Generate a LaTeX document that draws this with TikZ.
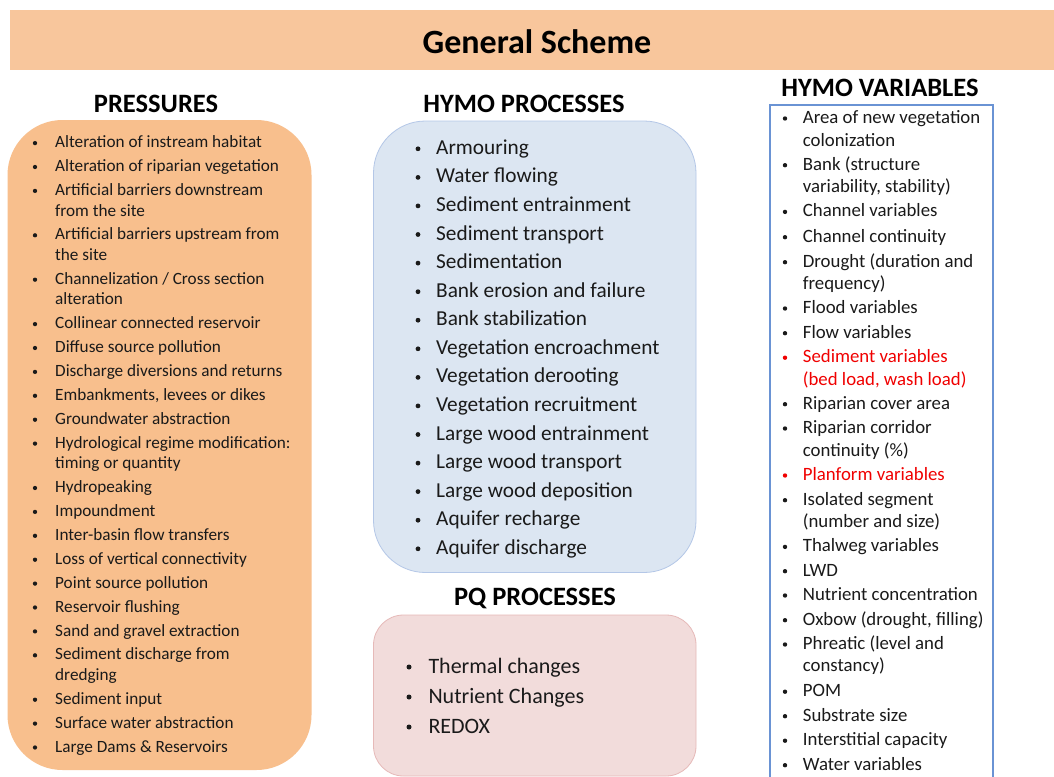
\documentclass[tikz,border=0pt]{standalone}
\usepackage{fontspec}
\setmainfont{Carlito}
\definecolor{titlebg}{HTML}{F8C69C}
\definecolor{presbg}{HTML}{F8BF8D}
\definecolor{hymobg}{HTML}{DCE6F2}
\definecolor{hymoln}{HTML}{B4C7E7}
\definecolor{pqbg}{HTML}{F2DCDB}
\definecolor{pqln}{HTML}{E6B9B8}
\definecolor{varln}{HTML}{6A93D4}
\definecolor{txt}{HTML}{1A1A1A}
\definecolor{redtxt}{HTML}{F00000}
\tikzset{
  head/.style={anchor=base, inner sep=0pt, text=black, font=\bfseries\fontsize{26.5}{31}\selectfont},
  ptxt/.style={anchor=base west, inner sep=0pt, text=txt, font=\fontsize{17.2}{20}\selectfont},
  htxt/.style={anchor=base west, inner sep=0pt, text=txt, font=\fontsize{21.3}{25}\selectfont},
  qtxt/.style={anchor=base west, inner sep=0pt, text=txt, font=\fontsize{22}{26}\selectfont},
  vtxt/.style={anchor=base west, inner sep=0pt, text=txt, font=\fontsize{18.8}{22}\selectfont},
  dot/.style={circle, fill=txt, inner sep=0pt, outer sep=0pt, minimum size=#1},
  boxnode/.style={inner sep=0pt, outer sep=0pt, rectangle},
}
\newcommand\pit[3]{\node[dot=4.3pt] (#1b) at (35,{#2-4.6}) {}; \node[ptxt] (#1) at (55,#2) {#3};}
\newcommand\pco[3]{\node[ptxt] (#1) at (55,#2) {#3};}
\newcommand\hit[3]{\node[dot=4.8pt] (#1b) at (418,{#2-5.5}) {}; \node[htxt] (#1) at (436,#2) {#3};}
\newcommand\qit[3]{\node[dot=5pt] (#1b) at (409,{#2-6}) {}; \node[qtxt] (#1) at (428.3,#2) {#3};}
\newcommand\vit[3]{\node[dot=4.4pt] (#1b) at (785,{#2-4.8}) {}; \node[vtxt] (#1) at (802.7,#2) {#3};}
\newcommand\vitr[3]{\node[dot=4.4pt, fill=redtxt] (#1b) at (785,{#2-4.8}) {}; \node[vtxt,text=redtxt] (#1) at (802.7,#2) {#3};}
\newcommand\vco[3]{\node[vtxt] (#1) at (802.7,#2) {#3};}
\newcommand\vcor[3]{\node[vtxt,text=redtxt] (#1) at (802.7,#2) {#3};}
\begin{document}
\begin{tikzpicture}[x=1pt,y=-1pt]
\useasboundingbox (0,0) rectangle (1054,776);
\fill[white] (0,0) rectangle (1054,776);
% title bar
\node[boxnode, fill=titlebg, minimum width=1044pt, minimum height=60pt, anchor=north west] (titlebar) at (10,10) {};
\node[anchor=base, inner sep=0pt, font=\bfseries\fontsize{34}{40}\selectfont] (title) at (537,54) {General Scheme};
% headings
\node[head] (hpres) at (156,112) {PRESSURES};
\node[head] (hproc) at (524,112) {HYMO PROCESSES};
\node[head] (hpq) at (535,605) {PQ PROCESSES};
\node[head] (hvar) at (880,96.7) {HYMO VARIABLES};
% boxes
\node[boxnode, fill=presbg, rounded corners=55pt, minimum width=304pt, minimum height=650pt, anchor=north west] (pbox) at (7.5,120) {};
\node[boxnode, fill=hymobg, draw=hymoln, line width=0.8pt, rounded corners=52pt, minimum width=322.5pt, minimum height=451.5pt, anchor=north west] (hbox) at (373.5,121) {};
\node[boxnode, fill=pqbg, draw=pqln, line width=0.8pt, rounded corners=30pt, minimum width=322.5pt, minimum height=161pt, anchor=north west] (qbox) at (373.5,615) {};
\coordinate (vbl) at (769.5,777);
\coordinate (vtl) at (769.5,105);
\coordinate (vtr) at (992.5,105);
\coordinate (vbr) at (992.5,777);
\draw[varln, line width=2pt] (vbl) -- (vtl) -- (vtr) -- (vbr);
% pressures
\pit{p1}{147.7}{Alteration of instream habitat}
\pit{p2}{171.6}{Alteration of riparian vegetation}
\pit{p3}{195.5}{Artificial barriers downstream}
\pco{p3a}{216.0}{from the site}
\pit{p4}{239.9}{Artificial barriers upstream from}
\pco{p4a}{260.4}{the site}
\pit{p5}{284.3}{Channelization / Cross section}
\pco{p5a}{304.8}{alteration}
\pit{p6}{328.7}{Collinear connected reservoir}
\pit{p7}{352.6}{Diffuse source pollution}
\pit{p8}{376.5}{Discharge diversions and returns}
\pit{p9}{400.4}{Embankments, levees or dikes}
\pit{p10}{424.3}{Groundwater abstraction}
\pit{p11}{448.2}{Hydrological regime modification:}
\pco{p11a}{468.7}{timing or quantity}
\pit{p12}{492.6}{Hydropeaking}
\pit{p13}{516.5}{Impoundment}
\pit{p14}{540.4}{Inter-basin flow transfers}
\pit{p15}{564.3}{Loss of vertical connectivity}
\pit{p16}{588.2}{Point source pollution}
\pit{p17}{612.1}{Reservoir flushing}
\pit{p18}{636.0}{Sand and gravel extraction}
\pit{p19}{659.9}{Sediment discharge from}
\pco{p19a}{680.4}{dredging}
\pit{p20}{704.3}{Sediment input}
\pit{p21}{728.2}{Surface water abstraction}
\pit{p22}{752.1}{Large Dams \& Reservoirs}
% hymo processes
\hit{h1}{154.3}{Armouring}
\hit{h2}{182.9}{Water flowing}
\hit{h3}{211.4}{Sediment entrainment}
\hit{h4}{240.0}{Sediment transport}
\hit{h5}{268.6}{Sedimentation}
\hit{h6}{297.2}{Bank erosion and failure}
\hit{h7}{325.7}{Bank stabilization}
\hit{h8}{354.3}{Vegetation encroachment}
\hit{h9}{382.9}{Vegetation derooting}
\hit{h10}{411.4}{Vegetation recruitment}
\hit{h11}{440.0}{Large wood entrainment}
\hit{h12}{468.6}{Large wood transport}
\hit{h13}{497.1}{Large wood deposition}
\hit{h14}{525.7}{Aquifer recharge}
\hit{h15}{554.3}{Aquifer discharge}
% pq processes
\qit{q1}{673}{Thermal changes}
\qit{q2}{703}{Nutrient Changes}
\qit{q3}{733}{REDOX}
% hymo variables
\vit{v1}{123.3}{Area of new vegetation}
\vco{v1a}{146}{colonization}
\vit{v2}{170}{Bank (structure}
\vco{v2a}{192.7}{variability, stability)}
\vit{v3}{216.7}{Channel variables}
\vit{v4}{242}{Channel continuity}
\vit{v5}{267}{Drought (duration and}
\vco{v5a}{289.3}{frequency)}
\vit{v6}{313.3}{Flood variables}
\vit{v7}{338}{Flow variables}
\vitr{v8}{362.5}{Sediment variables}
\vcor{v8a}{385}{(bed load, wash load)}
\vit{v9}{409}{Riparian cover area}
\vit{v10}{433.3}{Riparian corridor}
\vco{v10a}{456}{continuity (\%)}
\vitr{v11}{480.3}{Planform variables}
\vit{v12}{505}{Isolated segment}
\vco{v12a}{527.3}{(number and size)}
\vit{v13}{551.7}{Thalweg variables}
\vit{v14}{576}{LWD}
\vit{v15}{600.3}{Nutrient concentration}
\vit{v16}{625}{Oxbow (drought, filling)}
\vit{v17}{649.3}{Phreatic (level and}
\vco{v17a}{671.7}{constancy)}
\vit{v18}{696.5}{POM}
\vit{v19}{721}{Substrate size}
\vit{v20}{745.5}{Interstitial capacity}
\vit{v21}{770}{Water variables}
\end{tikzpicture}
\end{document}
